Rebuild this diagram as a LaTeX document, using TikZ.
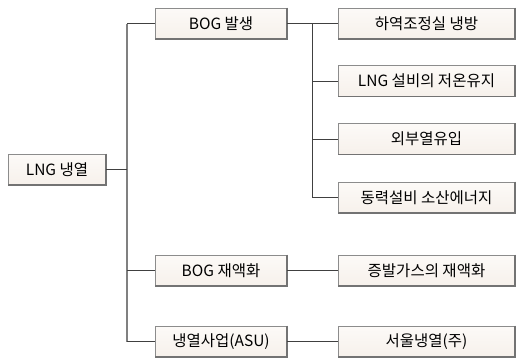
\documentclass[tikz,border=0pt]{standalone}
\usepackage{fontspec}
\setmainfont{Noto Sans CJK KR}
\begin{document}
\begin{tikzpicture}[x=1pt,y=-1pt,
  box/.style={minimum height=31pt, inner sep=0pt, top color=white!96!brown, bottom color=black!12!brown!10, draw=black!45, line width=0.7pt, text=black, font=\fontsize{15.5}{17}\selectfont},
  lbox/.style={box, minimum width=98pt},
  mbox/.style={box, minimum width=132pt},
  rbox/.style={box, minimum width=177pt},
  edge/.style={draw=black!55, line width=1.6pt},
  link/.style={draw=black!75, line width=1pt},
  trunk/.style={draw=black!50, line width=1.6pt}]
\useasboundingbox (0,0) rectangle (517,359);
\node[lbox] (L) at (57,169.5) {LNG 냉열};
\node[mbox] (B1) at (221,23.5) {BOG 발생};
\node[mbox] (B2) at (221,270.5) {BOG 재액화};
\node[mbox] (B3) at (221,341.5) {냉열사업(ASU)};
\node[rbox] (R1) at (426.5,23.5) {하역조정실 냉방};
\node[rbox] (R2) at (426.5,81) {LNG 설비의 저온유지};
\node[rbox] (R3) at (426.5,139) {외부열유입};
\node[rbox] (R4) at (426.5,197.5) {동력설비 소산에너지};
\node[rbox] (R5) at (426.5,270.5) {증발가스의 재액화};
\node[rbox] (R6) at (426.5,341.5) {서울냉열(주)};
\foreach \n in {L,B1,B2,B3,R1,R2,R3,R4,R5,R6}
  \draw[edge] ([xshift=-0.5pt]\n.north east) -- ([xshift=-0.5pt,yshift=0.5pt]\n.south east) -- ([yshift=0.5pt]\n.south west);
\coordinate (ta) at (127,0);
\coordinate (tb) at (312,0);
\draw[trunk] (ta |- B1.west) -- (ta |- B3.west);
\draw[link] (L.east) -- (L.east -| ta);
\foreach \n in {B1,B2,B3} \draw[link] (ta |- \n.west) -- (\n.west);
\draw[link] (B1.east) -- (R1.west);
\draw[link] (B2.east) -- (R5.west);
\draw[link] (B3.east) -- (R6.west);
\draw[link] (tb |- R1.west) -- (tb |- R4.west) -- (R4.west);
\foreach \n in {R2,R3} \draw[link] (tb |- \n.west) -- (\n.west);
\end{tikzpicture}
\end{document}
